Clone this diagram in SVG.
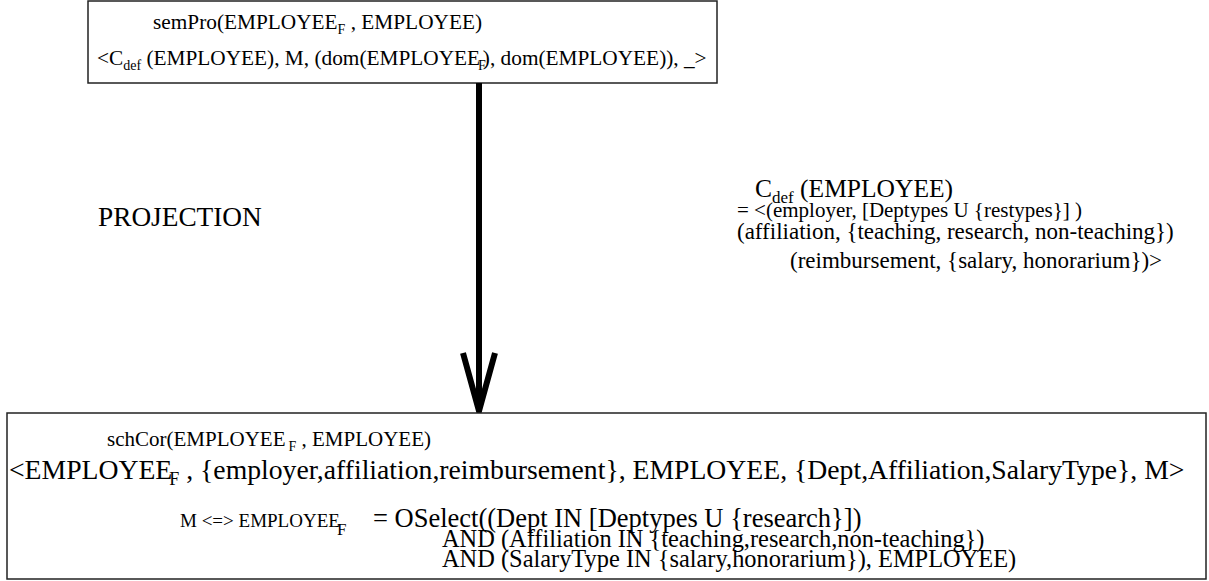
<svg xmlns="http://www.w3.org/2000/svg" width="1209" height="581" viewBox="0 0 1209 581">
<style>
.t{font-family:'Liberation Serif','Times New Roman',serif;fill:#000}
.box{fill:#fff;stroke:#222;stroke-width:1.5}
.arrow{fill:none;stroke:#000;stroke-width:6}
</style>
<rect width="1209" height="581" fill="#fff"/>
<g id="semPro">
<rect class="box" x="88" y="1" width="629" height="82"/>
<text class="t" font-size="21.3" x="153" y="29">semPro(EMPLOYEE<tspan font-size="14" dy="5">F</tspan><tspan dy="-5"> , EMPLOYEE)</tspan></text>
<text class="t" font-size="21.3" x="97" y="65">&lt;C<tspan font-size="14" dy="5">def</tspan><tspan dy="-5"> (EMPLOYEE), M, (dom(EMPLOYEE</tspan><tspan font-size="14" dy="5" dx="-2">F</tspan><tspan dy="-5" dx="-3">), dom(EMPLOYEE)), _&gt;</tspan></text>
</g>
<g id="connectors">
<line class="arrow" x1="479" y1="83" x2="479" y2="408"/>
<polyline class="arrow" points="463,353 479,411 495,353"/>
</g>
<g id="projection-label">
<text class="t" font-size="27.3" x="98" y="226">PROJECTION</text>
</g>
<g id="cdef">
<text class="t" font-size="25.5" x="755" y="197">C<tspan font-size="17" dy="6">def</tspan><tspan dy="-6"> (EMPLOYEE)</tspan></text>
<text class="t" font-size="21" x="737" y="217">= &lt;(employer, [Deptypes U {restypes}] )</text>
<text class="t" font-size="23" x="737" y="239">(affiliation, {teaching, research, non-teaching})</text>
<text class="t" font-size="23" x="790" y="268">(reimbursement, {salary, honorarium})&gt;</text>
</g>
<g id="schCor">
<rect class="box" x="7" y="413" width="1199" height="166"/>
<text class="t" font-size="21" x="107" y="446">schCor(EMPLOYEE<tspan font-size="14" dx="3" dy="5">F</tspan><tspan dy="-5"> , EMPLOYEE)</tspan></text>
<text class="t" font-size="27.7" x="9" y="479">&lt;EMPLOYEE<tspan font-size="18" dx="-3" dy="6">F</tspan><tspan dy="-6"> , {employer,affiliation,reimbursement}, EMPLOYEE, {Dept,Affiliation,SalaryType}, M&gt;</tspan></text>
<text class="t" font-size="19" x="180" y="527">M &lt;=&gt; EMPLOYEE<tspan font-size="17" dx="-3" dy="8">F</tspan></text>
<text class="t" font-size="26.5" x="373" y="527">= OSelect((Dept IN [Deptypes U {research}])</text>
<text class="t" font-size="24.4" x="442" y="547">AND (Affiliation IN {teaching,research,non-teaching})</text>
<text class="t" font-size="24.4" x="442" y="567">AND (SalaryType IN {salary,honorarium}), EMPLOYEE)</text>
</g>
</svg>
